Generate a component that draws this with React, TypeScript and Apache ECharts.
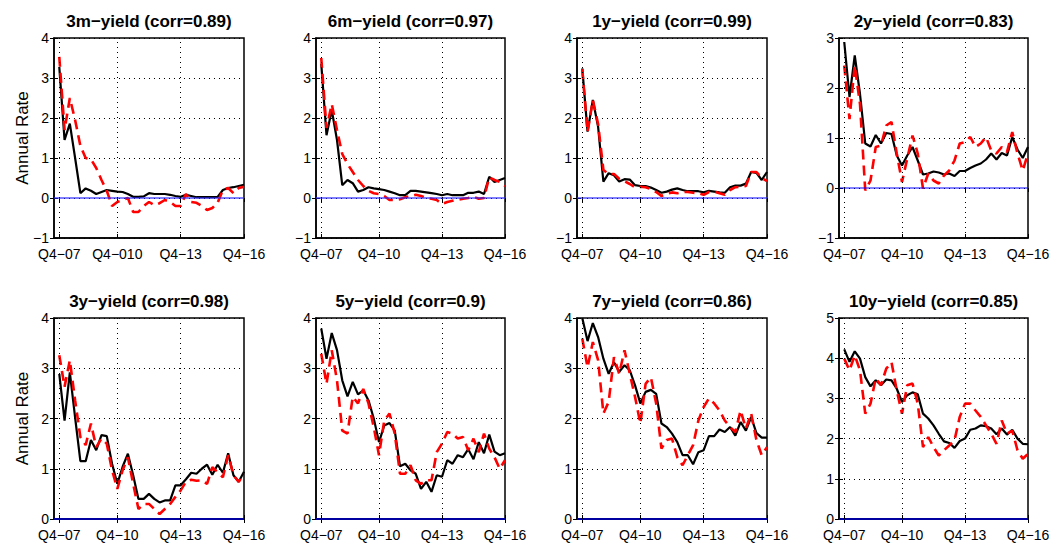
import React, { useEffect, useRef } from "react";
import * as echarts from "echarts";

const panelTitles = [
  "3m−yield (corr=0.89)",
  "6m−yield (corr=0.97)",
  "1y−yield (corr=0.99)",
  "2y−yield (corr=0.83)",
  "3y−yield (corr=0.98)",
  "5y−yield (corr=0.9)",
  "7y−yield (corr=0.86)",
  "10y−yield (corr=0.85)",
];
const xTickValues = [1, 12, 24, 36];
const xTickLabelsFirst = ["Q4−07", "Q4−010", "Q4−13", "Q4−16"];
const xTickLabels = ["Q4−07", "Q4−10", "Q4−13", "Q4−16"];
const yMins = [-1, -1, -1, -1, 0, 0, 0, 0];
const yMaxs = [4, 4, 4, 3, 4, 4, 4, 5];
const yAxisTitle = "Annual Rate";

const actual3m = [3.28, 1.45, 1.86, 1.0, 0.12, 0.24, 0.18, 0.1, 0.15, 0.2, 0.18, 0.16, 0.15, 0.1, 0.03, 0.03, 0.04, 0.12, 0.1, 0.1, 0.1, 0.08, 0.05, 0.03, 0.08, 0.05, 0.02, 0.02, 0.02, 0.02, 0.03, 0.2, 0.25, 0.27, 0.3, 0.33];
const fitted3m = [3.53, 1.7, 2.5, 1.95, 1.3, 1.0, 0.97, 0.75, 0.45, 0.18, -0.2, -0.1, -0.05, 0.0, -0.35, -0.35, -0.2, -0.1, -0.18, -0.13, -0.05, -0.1, -0.2, -0.2, 0.1, -0.1, -0.12, -0.2, -0.3, -0.25, -0.12, 0.2, 0.25, 0.12, 0.25, 0.28];
const actual6m = [3.36, 1.57, 2.2, 1.45, 0.32, 0.45, 0.37, 0.16, 0.2, 0.27, 0.24, 0.22, 0.2, 0.16, 0.12, 0.07, 0.07, 0.18, 0.18, 0.16, 0.14, 0.12, 0.1, 0.07, 0.1, 0.07, 0.07, 0.07, 0.13, 0.13, 0.16, 0.1, 0.53, 0.4, 0.45, 0.5];
const fitted6m = [3.5, 1.75, 2.35, 1.7, 1.1, 0.85, 0.65, 0.45, 0.3, 0.18, 0.12, 0.1, 0.05, -0.05, -0.05, -0.03, 0.02, 0.05, 0.08, 0.05, 0.0, -0.02, -0.05, -0.15, -0.1, -0.07, -0.05, -0.02, 0.0, 0.03, -0.02, 0.0, 0.52, 0.45, 0.4, 0.3];
const actual1y = [3.24, 1.66, 2.45, 1.78, 0.41, 0.62, 0.57, 0.41, 0.47, 0.46, 0.32, 0.3, 0.3, 0.26, 0.2, 0.13, 0.16, 0.21, 0.24, 0.2, 0.17, 0.17, 0.17, 0.14, 0.18, 0.16, 0.14, 0.13, 0.27, 0.31, 0.31, 0.36, 0.65, 0.63, 0.45, 0.65];
const fitted1y = [3.22, 1.65, 2.45, 1.85, 0.7, 0.6, 0.6, 0.48, 0.42, 0.35, 0.27, 0.28, 0.27, 0.22, 0.15, 0.05, 0.1, 0.14, 0.12, 0.15, 0.15, 0.13, 0.12, 0.08, 0.15, 0.16, 0.12, 0.08, 0.2, 0.27, 0.28, 0.3, 0.65, 0.65, 0.5, 0.42];
const actual2y = [2.92, 1.82, 2.65, 1.88, 0.89, 0.83, 1.06, 0.89, 1.1, 1.08, 0.65, 0.45, 0.65, 0.82, 0.55, 0.27, 0.29, 0.33, 0.31, 0.27, 0.29, 0.24, 0.34, 0.34, 0.4, 0.45, 0.49, 0.57, 0.69, 0.57, 0.7, 0.65, 1.02, 0.77, 0.6, 0.82];
const fitted2y = [2.45, 1.38, 2.45, 1.68, -0.05, 0.15, 0.82, 0.85, 1.25, 1.32, 0.69, 0.12, 0.59, 1.05, 0.69, -0.01, 0.29, 0.15, 0.09, 0.25, 0.35, 0.55, 0.89, 0.92, 1.02, 0.82, 0.89, 1.02, 0.75, 0.69, 0.82, 0.72, 1.12, 0.69, 0.35, 0.69];
const actual3y = [2.89, 1.96, 2.92, 2.02, 1.15, 1.15, 1.57, 1.37, 1.67, 1.65, 1.1, 0.7, 1.04, 1.3, 0.87, 0.4, 0.4, 0.5, 0.4, 0.33, 0.37, 0.37, 0.67, 0.67, 0.79, 0.92, 0.9, 1.0, 1.08, 0.88, 1.08, 0.92, 1.31, 0.87, 0.74, 0.94];
const fitted3y = [3.26, 2.63, 3.16, 2.36, 1.63, 1.47, 1.9, 1.43, 1.6, 1.5, 0.97, 0.6, 0.97, 1.23, 0.7, 0.2, 0.3, 0.3, 0.2, 0.1, 0.2, 0.3, 0.44, 0.57, 0.74, 0.78, 0.76, 0.77, 0.7, 1.03, 0.93, 0.83, 1.27, 0.87, 0.74, 0.9];
const actual5y = [3.79, 3.19, 3.7, 3.36, 2.76, 2.44, 2.73, 2.48, 2.56, 2.36, 2.0, 1.53, 1.86, 1.91, 1.76, 1.05, 1.1, 0.97, 0.9, 0.6, 0.74, 0.54, 0.87, 0.84, 1.17, 1.1, 1.27, 1.23, 1.39, 1.19, 1.53, 1.31, 1.68, 1.34, 1.27, 1.31];
const fitted5y = [3.29, 2.69, 3.36, 2.76, 1.76, 1.7, 2.43, 2.3, 2.59, 2.3, 1.83, 1.27, 1.96, 2.1, 1.7, 0.9, 0.9, 1.07, 0.77, 0.7, 0.77, 0.77, 1.33, 1.5, 1.73, 1.7, 1.6, 1.63, 1.37, 1.6, 1.33, 1.7, 1.4, 1.23, 1.0, 1.17];
const actual7y = [4.0, 3.54, 3.9, 3.62, 3.19, 2.89, 3.12, 2.93, 3.06, 2.96, 2.66, 2.3, 2.53, 2.57, 2.49, 1.9, 1.83, 1.7, 1.53, 1.27, 1.27, 1.09, 1.33, 1.37, 1.65, 1.65, 1.78, 1.73, 1.83, 1.66, 1.93, 1.76, 2.03, 1.71, 1.62, 1.62];
const fitted7y = [3.59, 3.02, 3.52, 3.16, 2.1, 2.33, 3.22, 2.89, 3.36, 2.89, 2.43, 1.9, 2.69, 2.82, 2.3, 1.4, 1.57, 1.6, 1.23, 1.07, 1.27, 1.47, 1.96, 2.23, 2.4, 2.3, 2.16, 1.96, 1.83, 1.73, 2.16, 1.8, 2.1, 1.57, 1.27, 1.43];
const actual10y = [4.22, 3.91, 4.17, 3.99, 3.53, 3.3, 3.45, 3.33, 3.47, 3.45, 3.24, 2.91, 3.08, 3.15, 3.1, 2.62, 2.5, 2.33, 2.12, 1.93, 1.89, 1.77, 1.94, 2.0, 2.22, 2.25, 2.33, 2.31, 2.25, 2.11, 2.25, 2.1, 2.22, 2.0, 1.87, 1.86];
const fitted10y = [3.99, 3.7, 4.07, 3.7, 2.62, 2.87, 3.5, 3.33, 3.74, 3.9, 3.2, 2.62, 3.33, 3.37, 2.87, 1.79, 2.04, 1.79, 1.58, 1.71, 1.83, 1.96, 2.54, 2.87, 2.87, 2.7, 2.54, 2.33, 2.12, 1.87, 2.45, 2.12, 2.2, 1.71, 1.5, 1.62];

const actualSeries = [actual3m, actual6m, actual1y, actual2y, actual3y, actual5y, actual7y, actual10y];
const fittedSeries = [fitted3m, fitted6m, fitted1y, fitted2y, fitted3y, fitted5y, fitted7y, fitted10y];

const FONT = "'Liberation Sans', Arial, Helvetica, sans-serif";
const colLefts = [54, 316, 577, 839];
const colWidths = [190, 189, 190, 189];
const rowTops = [38, 318];
const rowHeights = [200, 201];
const titleYs = [21, 301];

export default function App() {
  const ref = useRef<HTMLDivElement>(null);
  useEffect(() => {
    if (!ref.current) return;
    const chart = echarts.init(ref.current, null, { renderer: "svg" });
    const grids: any[] = [];
    const xAxes: any[] = [];
    const yAxes: any[] = [];
    const xAxesTop: any[] = [];
    const yAxesRight: any[] = [];
    const series: any[] = [];
    const graphics: any[] = [];
    for (let i = 0; i < 8; i++) {
      const row = Math.floor(i / 4);
      const col = i % 4;
      const left = colLefts[col];
      const top = rowTops[row];
      const width = colWidths[col];
      const height = rowHeights[row];
      grids.push({
        left, top, width, height,
        show: true, borderColor: "#000", borderWidth: 1.5,
        containLabel: false, outerBoundsMode: "none",
      });
      const labels = i === 0 ? xTickLabelsFirst : xTickLabels;
      xAxes.push({
        type: "value", gridIndex: i, min: 0, max: 36, position: "bottom",
        axisLine: { show: true, onZero: false, lineStyle: { color: "#000", width: 1.5 } },
        axisTick: { show: true, inside: true, length: 4, customValues: xTickValues, lineStyle: { color: "#000" } },
        axisLabel: {
          customValues: xTickValues,
          formatter: (v: number) => labels[xTickValues.indexOf(v)] ?? "",
          fontSize: 14, color: "#000", fontFamily: FONT, margin: 9, hideOverlap: false,
        },
        splitLine: { show: false },
      });
      xAxesTop.push({
        type: "value", gridIndex: i, min: 0, max: 36, position: "top",
        axisLine: { show: false },
        axisTick: { show: true, inside: true, length: 4, customValues: xTickValues, lineStyle: { color: "#000" } },
        axisLabel: { show: false },
        splitLine: { show: false },
      });
      yAxes.push({
        type: "value", gridIndex: i, min: yMins[i], max: yMaxs[i], interval: 1, position: "left",
        axisLine: { show: true, onZero: false, lineStyle: { color: "#000", width: 1.5 } },
        axisTick: { show: true, inside: true, length: 4, lineStyle: { color: "#000" } },
        axisLabel: {
          formatter: (v: number) => (v < 0 ? "−" + Math.abs(v) : String(v)),
          fontSize: 14, color: "#000", fontFamily: FONT, margin: 5,
        },
        splitLine: { show: true, lineStyle: { color: "#000", width: 1, type: [1, 4] } },
      });
      yAxesRight.push({
        type: "value", gridIndex: i, min: yMins[i], max: yMaxs[i], interval: 1, position: "right",
        axisLine: { show: false },
        axisTick: { show: true, inside: true, length: 4, lineStyle: { color: "#000" } },
        axisLabel: { show: false },
        splitLine: { show: false },
      });
      const zeroColor = row === 0 ? (i === 3 ? "#0000ff" : "rgba(40,40,255,0.6)") : "#0000a0";
      const zeroWidth = i === 3 ? 1 : 2;
      series.push({
        type: "line", xAxisIndex: i, yAxisIndex: i, silent: true, z: 2,
        data: actualSeries[i].map((v, k) => [k + 1, v]),
        symbol: "none",
        lineStyle: { color: "#000", width: 2.2 },
        markLine: {
          silent: true, symbol: ["none", "none"], animation: false,
          label: { show: false },
          lineStyle: { color: "#000", width: 1, type: [1, 4] },
          data: [{ xAxis: 1 }, { xAxis: 12 }, { xAxis: 24 }],
        },
      });
      series.push({
        type: "line", xAxisIndex: i, yAxisIndex: i, silent: true, z: 3,
        data: fittedSeries[i].map((v, k) => [k + 1, v]),
        symbol: "none",
        lineStyle: { color: "#ff0000", width: 2.6, type: [10, 6] },
      });
      series.push({
        type: "line", xAxisIndex: i, yAxisIndex: i, silent: true, z: 4,
        data: [[0, 0], [36, 0]],
        symbol: "none",
        lineStyle: { color: zeroColor, width: zeroWidth },
      });
      graphics.push({
        type: "text", x: left + width / 2, y: titleYs[row],
        style: {
          text: panelTitles[i], fill: "#000",
          font: `bold 17px ${FONT}`,
          align: "center", verticalAlign: "middle",
          textAlign: "center", textVerticalAlign: "middle",
        },
      });
      if (col === 0) {
        graphics.push({
          type: "text", x: 22, y: top + height / 2, rotation: Math.PI / 2,
          style: {
            text: yAxisTitle, fill: "#000",
            font: `17px ${FONT}`,
            align: "center", verticalAlign: "middle",
            textAlign: "center", textVerticalAlign: "middle",
          },
        });
      }
    }
    chart.setOption({
      animation: false,
      backgroundColor: "#fff",
      grid: grids,
      xAxis: [...xAxes, ...xAxesTop],
      yAxis: [...yAxes, ...yAxesRight],
      series,
      graphic: graphics,
    });
    return () => chart.dispose();
  }, []);
  return (
    <div
      ref={ref}
      style={{ position: "absolute", left: 0, top: 0, width: 1049, height: 543 }}
    />
  );
}
